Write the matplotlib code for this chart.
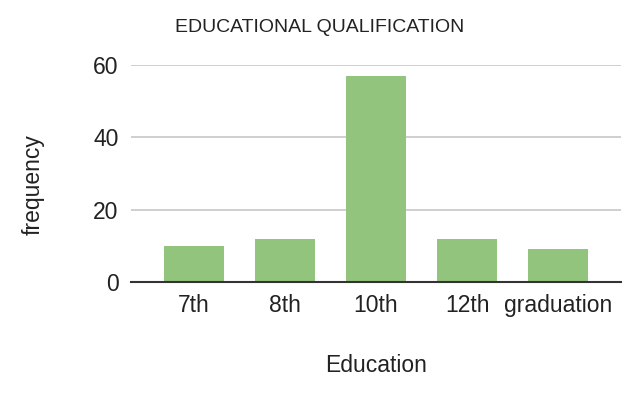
import matplotlib.pyplot as plt

plt.rcParams['font.family'] = ['Liberation Sans', 'DejaVu Sans']

categories = ['7th', '8th', '10th', '12th', 'graduation']
frequency = [10, 12, 57, 12, 9]

fig = plt.figure(figsize=(6.4, 3.98), dpi=100)
ax = fig.add_axes([131 / 640, 1 - 282 / 398, 490 / 640, 217 / 398])

x = range(len(categories))
ax.bar(x, frequency, width=0.66, color='#93c47d', zorder=2)

ax.set_xlim(-0.69, 4.69)
ax.set_ylim(0, 60)
ax.set_yticks([0, 20, 40, 60])
ax.set_xticks(list(x))
ax.set_xticklabels(categories)
ax.grid(axis='y', color='#cccccc', linewidth=1.3, zorder=0)
ax.tick_params(axis='both', length=0, labelsize=16.5, colors='#222222')
ax.tick_params(axis='x', pad=8.5)
ax.tick_params(axis='y', pad=9)
for s in ['top', 'right', 'left']:
    ax.spines[s].set_visible(False)
ax.spines['bottom'].set_color('#333333')
ax.spines['bottom'].set_linewidth(1.5)
ax.spines['bottom'].set_zorder(3)

fig.text(376 / 640, 1 - 365 / 398, 'Education', fontsize=16.5,
         ha='center', va='center', color='#222222')
fig.text(33 / 640, 1 - 185 / 398, 'frequency', fontsize=16.5, rotation=90,
         ha='center', va='center', color='#222222')
fig.text(320 / 640, 1 - 28 / 398, 'EDUCATIONAL QUALIFICATION', fontsize=14,
         ha='center', va='center', color='#222222')

fig.savefig('out.png', dpi=100)
